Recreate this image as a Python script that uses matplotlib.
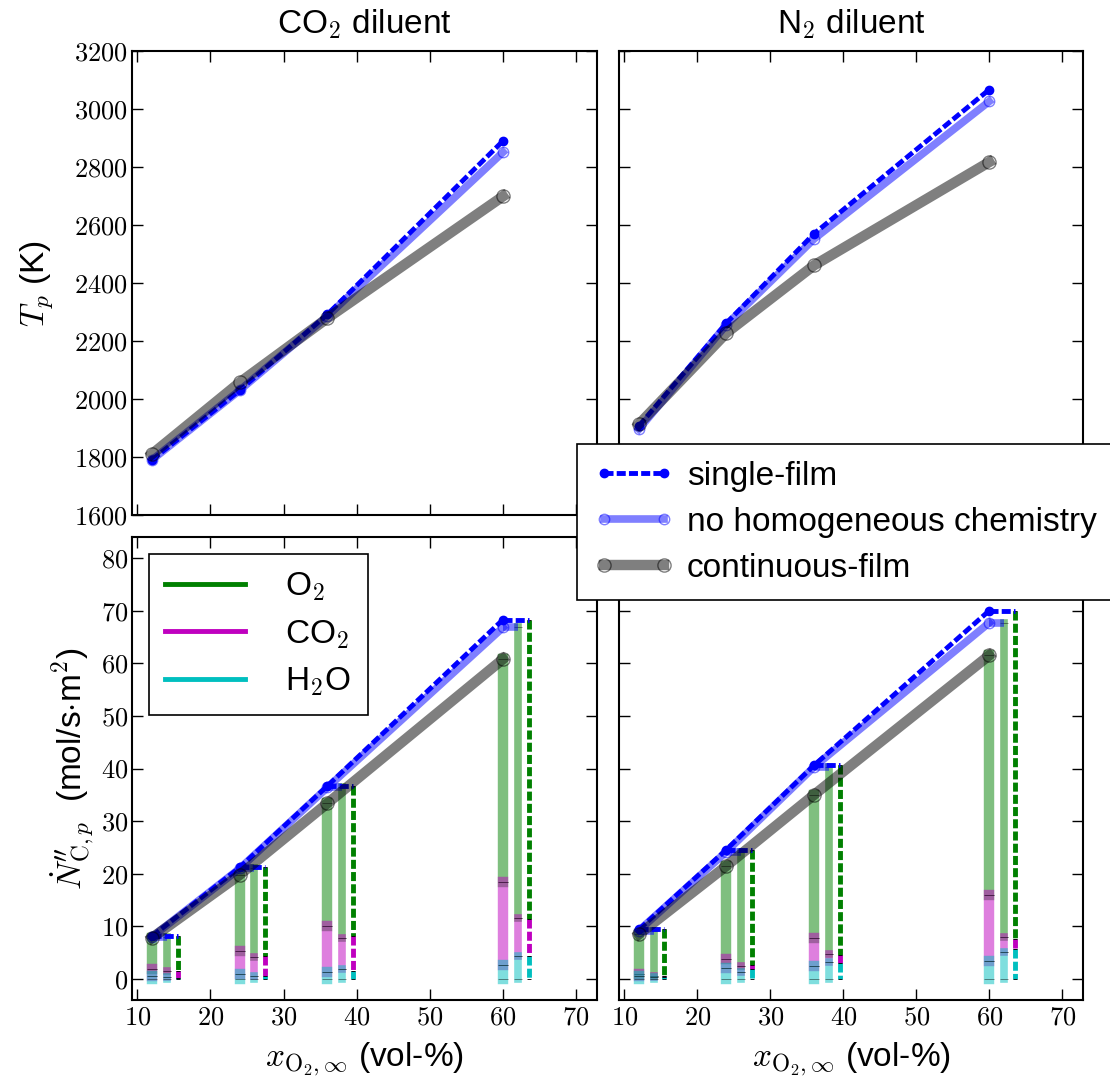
import matplotlib
matplotlib.use('Agg')
import matplotlib.pyplot as plt
from matplotlib.ticker import FuncFormatter
from matplotlib.lines import Line2D

plt.rcParams['font.family'] = ['Liberation Sans', 'DejaVu Sans']
plt.rcParams['mathtext.fontset'] = 'cm'
plt.rcParams['lines.scale_dashes'] = False
plt.rcParams['lines.solid_capstyle'] = 'projecting'

# ---------------- data ----------------
x_o2 = [12, 24, 36, 60]          # vol-% O2
bar_offsets = [0.0, 2.0, 3.5]     # continuous, no-homog., single

# particle temperature (K)
Tp_single_co2 = [1790, 2030, 2292, 2890]
Tp_nohomo_co2 = [1790, 2030, 2286, 2851]
Tp_cont_co2   = [1810, 2057, 2279, 2699]
Tp_single_n2  = [1907, 2262, 2570, 3067]
Tp_nohomo_n2  = [1896, 2256, 2552, 3026]
Tp_cont_n2    = [1913, 2228, 2461, 2817]

# total carbon flux (mol/s m2)
N_single_co2 = [8.1, 21.2, 36.7, 68.3]
N_nohomo_co2 = [8.0, 21.0, 36.4, 66.8]
N_cont_co2   = [7.8, 19.8, 33.4, 60.8]
N_single_n2  = [9.4, 24.6, 40.6, 70.0]
N_nohomo_n2  = [9.2, 24.2, 40.3, 67.7]
N_cont_n2    = [8.5, 21.5, 35.0, 61.5]

# contributions by reactant: CO2 diluent
O2_cont_co2  = [6.0, 14.5, 23.4, 42.4]
CO2_cont_co2 = [1.3, 4.4, 8.7, 15.7]
H2O_cont_co2 = [0.5, 0.9, 1.3, 2.7]
O2_nohomo_co2  = [6.55, 16.8, 28.7, 55.2]
CO2_nohomo_co2 = [1.05, 3.7, 5.9, 7.25]
H2O_nohomo_co2 = [0.4, 0.5, 1.8, 4.35]
O2_single_co2  = [6.65, 16.8, 28.6, 56.9]
CO2_single_co2 = [1.25, 3.8, 6.5, 7.1]
H2O_single_co2 = [0.2, 0.6, 1.6, 4.3]

# contributions by reactant: N2 diluent
O2_cont_n2  = [7.65, 17.8, 27.2, 45.5]
CO2_cont_n2 = [0.35, 1.7, 5.35, 12.6]
H2O_cont_n2 = [0.5, 2.0, 2.45, 3.4]
O2_nohomo_n2  = [8.65, 21.7, 35.5, 59.8]
CO2_nohomo_n2 = [0.2, 1.2, 1.6, 2.7]
H2O_nohomo_n2 = [0.35, 1.3, 3.2, 5.2]
O2_single_n2  = [8.8, 21.9, 36.0, 62.4]
CO2_single_n2 = [0.2, 0.9, 1.6, 2.0]
H2O_single_n2 = [0.4, 1.8, 3.0, 5.6]

xticks = [10, 20, 30, 40, 50, 60, 70]
Tticks = [1600, 1800, 2000, 2200, 2400, 2600, 2800, 3000, 3200]
Nticks = [0, 10, 20, 30, 40, 50, 60, 70, 80]

# ---------------- styles ----------------
LW_S, LW_H, LW_C = 3.5, 5.5, 7.5
DASH = (6.5, 2.3)
sty_single = dict(color='b', lw=LW_S, ls='--', dashes=DASH, marker='o', ms=6, mec='b')
sty_nohomo = dict(color='b', alpha=0.5, lw=LW_H, marker='o', ms=7.5, mec='b',
                  mfc='none', mew=1.0)
sty_cont = dict(color='k', alpha=0.5, lw=LW_C, marker='o', ms=9.5, mec='k',
                mfc='none', mew=1.0)

fig = plt.figure(figsize=(11.1, 10.85), dpi=100)
W, H = 1110, 1085
def rect(l, t, r, b):
    return [l / W, 1 - b / H, (r - l) / W, (b - t) / H]

ax_tl = fig.add_axes(rect(132, 51, 597, 515))
ax_tr = fig.add_axes(rect(619, 51, 1083, 515))
ax_bl = fig.add_axes(rect(132, 537, 597, 1000))
ax_br = fig.add_axes(rect(619, 537, 1083, 1000))

fmt = FuncFormatter(lambda v, p: f'${v:.0f}$')
for ax in (ax_tl, ax_tr, ax_bl, ax_br):
    ax.set_xlim(9.27, 72.85)
    ax.set_xticks(xticks)
    ax.xaxis.set_major_formatter(fmt)
    ax.yaxis.set_major_formatter(fmt)
    ax.tick_params(direction='in', top=True, right=True, length=8, width=1.0,
                   labelsize=19, pad=4)
    ax.tick_params(axis='y', pad=3)
    for s in ax.spines.values():
        s.set_linewidth(1.5)

for ax in (ax_tl, ax_tr):
    ax.set_ylim(1600, 3200)
    ax.set_yticks(Tticks)
    ax.tick_params(labelbottom=False)
for ax in (ax_bl, ax_br):
    ax.set_ylim(-4, 84)
    ax.set_yticks(Nticks)
ax_tr.tick_params(labelleft=False)
ax_br.tick_params(labelleft=False)

# ---------------- top: temperatures ----------------
for ax, s, h, c in ((ax_tl, Tp_single_co2, Tp_nohomo_co2, Tp_cont_co2),
                    (ax_tr, Tp_single_n2, Tp_nohomo_n2, Tp_cont_n2)):
    ax.plot(x_o2, s, **sty_single)
    ax.plot(x_o2, h, **sty_nohomo)
    ax.plot(x_o2, c, **sty_cont)

# ---------------- bottom: fluxes with contribution bars ----------------
def stack(ax, xs, o2, co2, h2o, lw, alpha, dashed):
    for i, x in enumerate(xs):
        b1 = h2o[i]
        b2 = b1 + co2[i]
        b3 = b2 + o2[i]
        for lo, hi, col in ((b2, b3, 'g'), (b1, b2, 'm'), (0.0, b1, 'c')):
            kw = dict(color=col, lw=lw, alpha=alpha, marker='_', ms=lw,
                      mec='k', mew=0.6)
            if dashed:
                kw.update(ls='--', dashes=DASH, dash_capstyle='butt')
            else:
                kw.update(solid_capstyle='projecting')
            ax.plot([x, x], [hi, lo], **kw)

panels = (
    (ax_bl, N_single_co2, N_nohomo_co2, N_cont_co2,
     (O2_cont_co2, CO2_cont_co2, H2O_cont_co2),
     (O2_nohomo_co2, CO2_nohomo_co2, H2O_nohomo_co2),
     (O2_single_co2, CO2_single_co2, H2O_single_co2)),
    (ax_br, N_single_n2, N_nohomo_n2, N_cont_n2,
     (O2_cont_n2, CO2_cont_n2, H2O_cont_n2),
     (O2_nohomo_n2, CO2_nohomo_n2, H2O_nohomo_n2),
     (O2_single_n2, CO2_single_n2, H2O_single_n2)),
)
for ax, s, h, c, cc, hh, ss in panels:
    stack(ax, [x + bar_offsets[0] for x in x_o2], *cc, LW_C, 0.5, False)
    stack(ax, [x + bar_offsets[1] for x in x_o2], *hh, LW_H, 0.5, False)
    stack(ax, [x + bar_offsets[2] for x in x_o2], *ss, LW_S, 1.0, True)
    for i, x in enumerate(x_o2):
        ax.plot([x, x + bar_offsets[2]], [s[i], s[i]], color='b', lw=LW_S,
                ls='--', dashes=DASH)
        ax.plot([x, x + bar_offsets[1]], [h[i], h[i]], color='b', lw=LW_H,
                alpha=0.5, solid_capstyle='butt')
    ax.plot(x_o2, s, **sty_single)
    ax.plot(x_o2, h, **sty_nohomo)
    ax.plot(x_o2, c, **sty_cont)

# ---------------- labels ----------------
ax_tl.set_title('CO$_2$ diluent', fontsize=24, pad=13)
ax_tr.set_title('N$_2$ diluent', fontsize=24, pad=13)
ax_tl.set_ylabel('$T_p$ (K)', fontsize=24, labelpad=14)
ax_bl.set_ylabel(r"$\dot{N}^{\prime\prime}_{\mathrm{C},p}$  (mol/s$\cdot$m$^2$)",
                 fontsize=24, labelpad=3)
for ax in (ax_bl, ax_br):
    ax.set_xlabel(r'$x_{\mathrm{O}_2,\infty}$ (vol-%)', fontsize=24, labelpad=8)

# species legend
sp_handles = [Line2D([], [], color='g', lw=3.5),
              Line2D([], [], color='m', lw=3.5),
              Line2D([], [], color='c', lw=3.5)]
leg1 = ax_bl.legend(sp_handles, ['O$_2$', 'CO$_2$', 'H$_2$O'], loc='upper left',
                    fontsize=24, handlelength=2.4, handletextpad=1.2,
                    borderaxespad=0.5, fancybox=False, framealpha=1,
                    edgecolor='k', labelspacing=0.45, borderpad=0.5)
leg1.get_frame().set_linewidth(1.2)

# model legend
m_handles = [Line2D([], [], **sty_single), Line2D([], [], **sty_nohomo),
             Line2D([], [], **sty_cont)]
leg2 = fig.legend(m_handles, ['single-film', 'no homogeneous chemistry',
                              'continuous-film'],
                  loc='upper left', bbox_to_anchor=(577 / W, 1 - 444 / H),
                  borderaxespad=0, fontsize=24, numpoints=2, handlelength=2.4,
                  handletextpad=0.4, fancybox=False, framealpha=1,
                  edgecolor='k', labelspacing=0.45, borderpad=0.5)
leg2.get_frame().set_linewidth(1.2)

fig.savefig('out.png', dpi=100)
